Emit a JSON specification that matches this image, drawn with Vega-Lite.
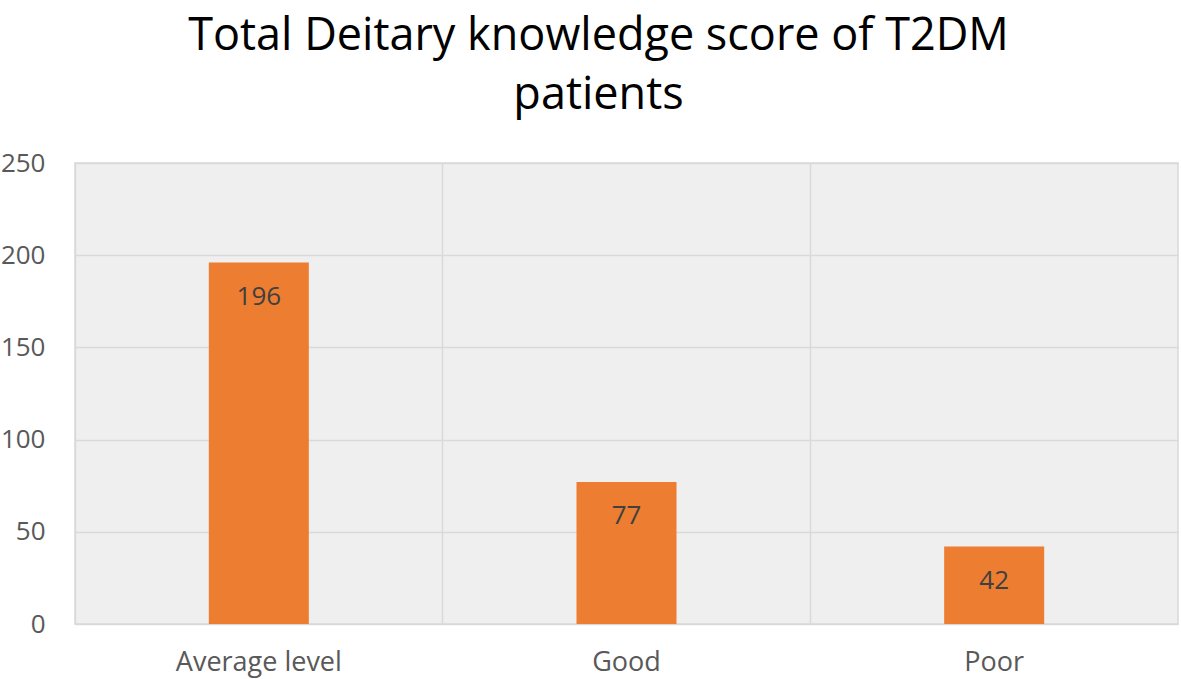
{
  "$schema": "https://vega.github.io/schema/vega-lite/v6.json",
  "width": 1103,
  "height": 461,
  "autosize": {"type": "none"},
  "padding": {"left": 75, "top": 163, "right": 3, "bottom": 55},
  "background": "white",
  "title": {
    "text": ["Total Deitary knowledge score of T2DM", "patients"],
    "fontSize": 45,
    "font": "Open Sans",
    "fontWeight": "normal",
    "color": "#000000",
    "anchor": "middle",
    "frame": "group",
    "dx": -28,
    "lineHeight": 59,
    "offset": 32
  },
  "data": {
    "values": [
      {"category": "Average level", "value": 196},
      {"category": "Good", "value": 77},
      {"category": "Poor", "value": 42}
    ]
  },
  "config": {
    "view": {"stroke": "#d9d9d9", "strokeWidth": 1.5, "fill": "#efefef"},
    "font": "Open Sans"
  },
  "encoding": {
    "x": {
      "field": "category",
      "type": "nominal",
      "sort": null,
      "scale": {"paddingInner": 0, "paddingOuter": 0},
      "axis": {
        "title": null,
        "labelAngle": 0,
        "labelFontSize": 27,
        "labelColor": "#595959",
        "labelPadding": 25,
        "ticks": false,
        "domain": false,
        "grid": true,
        "gridColor": "#d9d9d9",
        "gridWidth": 1.5,
        "bandPosition": 0
      }
    }
  },
  "layer": [
    {
      "mark": {"type": "bar", "color": "#ED7D31", "width": {"band": 0.272}},
      "encoding": {
        "y": {
          "field": "value",
          "type": "quantitative",
          "scale": {"domain": [0, 250], "nice": false, "zero": true},
          "axis": {
            "title": null,
            "values": [0, 50, 100, 150, 200, 250],
            "labelFontSize": 26,
            "labelColor": "#595959",
            "labelPadding": 30,
            "ticks": false,
            "domain": false,
            "gridColor": "#d9d9d9",
            "gridWidth": 1.5
          }
        }
      }
    },
    {
      "mark": {"type": "text", "fontSize": 26, "color": "#404040", "baseline": "middle", "dy": 34},
      "encoding": {
        "y": {"field": "value", "type": "quantitative"},
        "text": {"field": "value", "type": "quantitative"}
      }
    }
  ]
}
